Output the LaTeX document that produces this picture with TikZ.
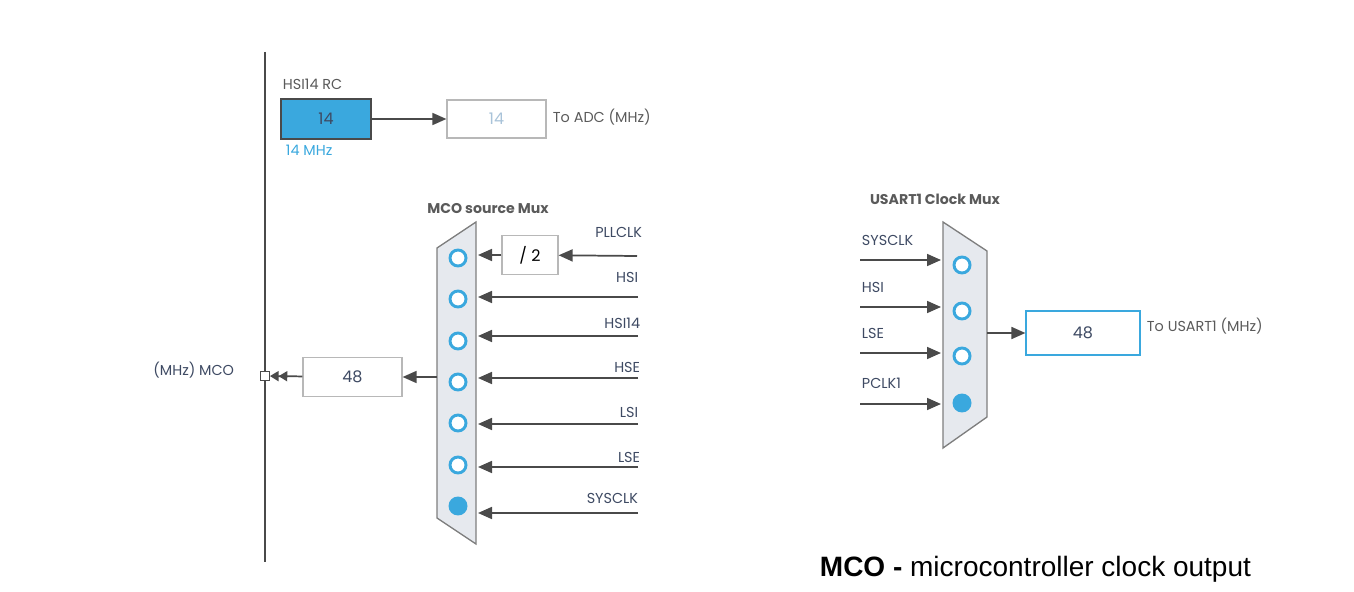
\documentclass[tikz,border=0pt]{standalone}
\usepackage{fontspec}
\setmainfont{Poppins}
\newfontfamily\captionfont{Liberation Sans}
\usetikzlibrary{arrows.meta}
\definecolor{selblue}{HTML}{3AA8DE}
\definecolor{wiregray}{HTML}{4A4A4A}
\definecolor{labelgray}{HTML}{5A5A5A}
\definecolor{labelnavy}{HTML}{3E4A63}
\definecolor{boxgray}{HTML}{B8B8B8}
\definecolor{muxfill}{HTML}{E6E9EE}
\definecolor{muxedge}{HTML}{7E7E7E}
\definecolor{fadenum}{HTML}{A9C3D9}
\tikzset{every picture/.style={line width=0.75pt}}

\begin{document}
\begin{tikzpicture}[x=0.75pt,y=0.75pt,yscale=-1,xscale=1,
	font=\fontsize{10.8}{13}\selectfont,
	wire/.style={draw=wiregray, line width=1.3pt},
	tip/.style={-{Triangle[length=10.5pt,width=9pt]}},
	dbltip/.style={-{Triangle[length=6.5pt,width=7.5pt]Triangle[length=6.5pt,width=7.5pt]}},
	valbox/.style={draw=boxgray, fill=white, line width=0.9pt, inner sep=0pt, font=\fontsize{12}{14}\selectfont},
	sel/.style={circle, draw=selblue, line width=2.2pt, fill=white, minimum size=12pt, inner sep=0pt},
	selon/.style={sel, fill=selblue},
	muxbody/.style={draw=muxedge, fill=muxfill, line width=1pt},
	muxtitle/.style={text=labelgray, font=\fontsize{10.6}{13}\selectfont\bfseries}]
	\useasboundingbox (0,0) rectangle (1354,592);

	%Straight Lines [id:bus] 
	\coordinate (bustop) at (265,52);
	\coordinate (busbot) at (265,562);
	\draw [wire]  (bustop) -- (busbot);

	%Shape: Rectangle [id:hsirc] 
	\node [valbox, draw=wiregray, fill=selblue, text=labelnavy, minimum width=67.5pt, minimum height=30pt] (hsirc) at (326,119) {14};
	%Shape: Rectangle [id:adc] 
	\node [valbox, text=fadenum, minimum width=74.25pt, minimum height=28.5pt] (adc) at (496.5,119) {14};
	\draw [wire, tip]  (hsirc) -- (adc);

	% Text Node
	\node [anchor=west, text=labelgray] (hsirclabel) at (278,84) {HSI14 RC};
	% Text Node
	\node [anchor=west, text=selblue] (hsimhz) at (281,150) {14 MHz};
	% Text Node
	\node [anchor=west, text=labelgray] (adclabel) at (548,117) {To ADC (MHz)};

	%Shape: Trapezoid [id:mcomux] 
	\draw [muxbody]  (437,248) -- (476,222) -- (476,544) -- (437,518) -- cycle ;
	\coordinate (mcoedge) at (478,0);
	\node [sel] (mco1) at (458,258) {};
	\node [sel] (mco2) at (458,299) {};
	\node [sel] (mco3) at (458,341) {};
	\node [sel] (mco4) at (458,382) {};
	\node [sel] (mco5) at (458,423) {};
	\node [sel] (mco6) at (458,465) {};
	\node [selon] (mco7) at (458,506) {};

	%Straight Lines [id:mcoinputs] 
	\coordinate (inpll) at (637,256);
	\node [valbox, minimum width=42pt, minimum height=29pt] (div) at (530,255) {/ 2};
	\draw [wire, tip]  (inpll) -- (div);
	\draw [wire, tip]  (div) -- (div -| mcoedge);
	\coordinate (inhsi) at (638,297);
	\draw [wire, tip]  (inhsi) -- (inhsi -| mcoedge);
	\coordinate (inhsift) at (638,336);
	\draw [wire, tip]  (inhsift) -- (inhsift -| mcoedge);
	\coordinate (inhse) at (638,378);
	\draw [wire, tip]  (inhse) -- (inhse -| mcoedge);
	\coordinate (inlsi) at (638,424);
	\draw [wire, tip]  (inlsi) -- (inlsi -| mcoedge);
	\coordinate (inlse) at (638,467);
	\draw [wire, tip]  (inlse) -- (inlse -| mcoedge);
	\coordinate (insys) at (638,513);
	\draw [wire, tip]  (insys) -- (insys -| mcoedge);

	% Text Node
	\node [muxtitle] (mcotitle) at (488,209) {MCO source Mux};
	% Text Node
	\node [anchor=east, text=labelnavy] (lblpll) at (647,232) {PLLCLK};
	% Text Node
	\node [anchor=east, text=labelnavy] (lblhsi) at (643,277) {HSI};
	% Text Node
	\node [anchor=east, text=labelnavy] (lblhsift) at (645,323) {HSI14};
	% Text Node
	\node [anchor=east, text=labelnavy] (lblhse) at (645,367) {HSE};
	% Text Node
	\node [anchor=east, text=labelnavy] (lbllsi) at (643,412) {LSI};
	% Text Node
	\node [anchor=east, text=labelnavy] (lbllse) at (645,457) {LSE};
	% Text Node
	\node [anchor=east, text=labelnavy] (lblsys) at (643,498) {SYSCLK};

	%Straight Lines [id:mcoout] 
	\coordinate (mcoout) at (437,377);
	\node [valbox, text=labelnavy, minimum width=74.25pt, minimum height=29pt] (mco) at (352.5,377) {48};
	\draw [wire, tip]  (mcoout) -- (mco);
	\node [draw=wiregray, fill=white, line width=0.9pt, minimum size=6.5pt, inner sep=0pt] (mcopin) at (265,376) {};
	\draw [wire, dbltip]  (mco) -- (mcopin);
	% Text Node
	\node [anchor=east, text=labelnavy] (mcolabel) at (239,370) {(MHz) MCO};

	%Shape: Trapezoid [id:usartmux] 
	\draw [muxbody]  (943,222) -- (987,251) -- (987,417) -- (943,448) -- cycle ;
	\coordinate (usedge) at (941,0);
	\node [sel] (us1) at (962,265) {};
	\node [sel] (us2) at (962,311) {};
	\node [sel] (us3) at (962,356) {};
	\node [selon] (us4) at (962,403) {};

	%Straight Lines [id:usartinputs] 
	\coordinate (ussys) at (860,260);
	\draw [wire, tip]  (ussys) -- (ussys -| usedge);
	\coordinate (ushsi) at (860,307);
	\draw [wire, tip]  (ushsi) -- (ushsi -| usedge);
	\coordinate (uslse) at (860,353);
	\draw [wire, tip]  (uslse) -- (uslse -| usedge);
	\coordinate (uspclk) at (860,404);
	\draw [wire, tip]  (uspclk) -- (uspclk -| usedge);

	% Text Node
	\node [muxtitle] (ustitle) at (935,199) {USART1 Clock Mux};
	% Text Node
	\node [anchor=west, text=labelnavy] (lblussys) at (857,240) {SYSCLK};
	% Text Node
	\node [anchor=west, text=labelnavy] (lblushsi) at (857,287) {HSI};
	% Text Node
	\node [anchor=west, text=labelnavy] (lbluslse) at (857,333) {LSE};
	% Text Node
	\node [anchor=west, text=labelnavy] (lbluspclk) at (857,383) {PCLK1};

	%Straight Lines [id:usartout] 
	\coordinate (usout) at (987,333);
	\node [valbox, draw=selblue, text=labelnavy, minimum width=85.5pt, minimum height=33pt] (usart) at (1083,333) {48};
	\draw [wire, tip]  (usout) -- (usart);
	% Text Node
	\node [anchor=west, text=labelgray] (usartlabel) at (1142,326) {To USART1 (MHz)};

	% Text Node
	\node [anchor=west, font=\captionfont\fontsize{21}{24}\selectfont] (caption) at (815,569) {\textbf{MCO -} microcontroller clock output};

\end{tikzpicture}
\end{document}
